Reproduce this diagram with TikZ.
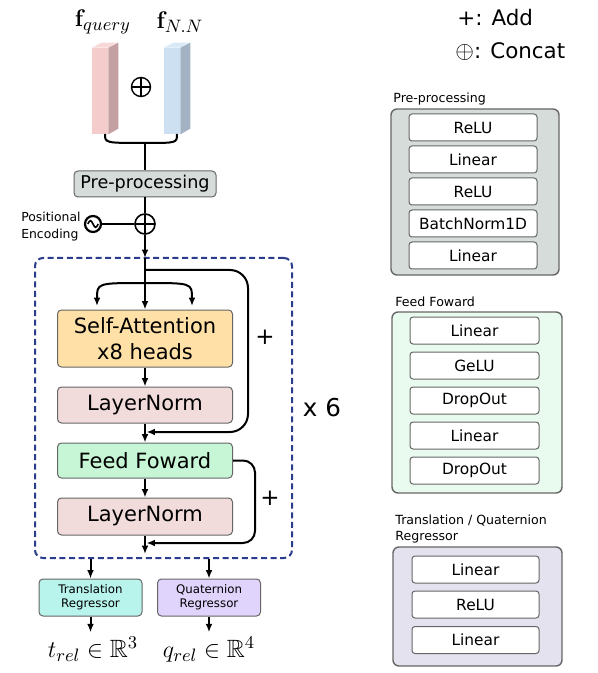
\documentclass[tikz,border=0pt]{standalone}
\usepackage[no-math]{fontspec}
\setmainfont{DejaVu Sans}
\usepackage{amsmath,amssymb}
\usetikzlibrary{arrows.meta}

\definecolor{prefill}{RGB}{214,220,218}
\definecolor{attfill}{RGB}{255,224,166}
\definecolor{normfill}{RGB}{242,220,219}
\definecolor{fffill}{RGB}{198,246,214}
\definecolor{transfill}{RGB}{184,244,236}
\definecolor{quatfill}{RGB}{224,212,252}
\definecolor{ffback}{RGB}{233,251,238}
\definecolor{regback}{RGB}{227,226,238}
\definecolor{loopblue}{RGB}{42,60,140}
\definecolor{qfront}{RGB}{244,204,204}
\definecolor{qtop}{RGB}{248,216,216}
\definecolor{qside}{RGB}{196,160,162}
\definecolor{nfront}{RGB}{204,224,242}
\definecolor{ntop}{RGB}{216,232,246}
\definecolor{nside}{RGB}{162,178,194}

\tikzset{
  blk/.style={draw=black!60, rounded corners=2pt, line width=0.5pt, inner sep=0pt},
  layer/.style={blk, minimum width=87.5pt, align=center, font=\fontsize{10.5}{13}\selectfont},
  regbox/.style={blk, minimum width=51.5pt, minimum height=18.5pt, align=center, font=\fontsize{5.9}{7}\selectfont},
  op/.style={blk, fill=white, rounded corners=1.5pt, minimum height=13.5pt, font=\fontsize{7.7}{9}\selectfont},
  group/.style={blk, rounded corners=3pt, line width=0.7pt},
  title/.style={anchor=west, inner sep=0pt, align=left, font=\fontsize{6.3}{8}\selectfont},
  oplus/.style={circle, draw, line width=0.8pt, minimum size=10pt, inner sep=0pt,
    path picture={\draw[line width=0.8pt] (path picture bounding box.north) -- (path picture bounding box.south)
      (path picture bounding box.west) -- (path picture bounding box.east);}},
  wave/.style={circle, draw, line width=1.1pt, minimum size=8pt, inner sep=0pt,
    path picture={\draw[line width=0.8pt] ([xshift=-2.6pt]path picture bounding box.center)
      .. controls +(1pt,2.2pt) and +(-1pt,2.2pt) .. (path picture bounding box.center)
      .. controls +(1pt,-2.2pt) and +(-1pt,-2.2pt) .. ([xshift=2.6pt]path picture bounding box.center);}},
  flow/.style={line width=1pt, -{Latex[length=4.2pt,width=3.4pt]}},
  link/.style={line width=1pt},
  mathlbl/.style={inner sep=2pt, font=\fontsize{12.5}{15}\selectfont},
}

\begin{document}
\begin{tikzpicture}[x=0.5pt, y=-0.5pt]
\useasboundingbox (0,0) rectangle (598,673);

% input features
\node[mathlbl] (fq) at (103,22) {$\mathbf{f}_{query}$};
\node[mathlbl] (fn) at (180,22) {$\mathbf{f}_{N.N}$};
\node[fill=qfront, minimum width=8pt, minimum height=43pt, inner sep=0pt] (qblock) at (100,91) {};
\fill[qside] (qblock.north east) -- ++(5pt,2.5pt) -- ++(0pt,-43pt) -- (qblock.south east) -- cycle;
\fill[qtop] (qblock.north west) -- ++(5pt,2.5pt) -- ++(8pt,0pt) -- (qblock.north east) -- cycle;
\node[fill=nfront, minimum width=8pt, minimum height=43pt, inner sep=0pt] (nblock) at (172,91) {};
\fill[nside] (nblock.north east) -- ++(5pt,2.5pt) -- ++(0pt,-43pt) -- (nblock.south east) -- cycle;
\fill[ntop] (nblock.north west) -- ++(5pt,2.5pt) -- ++(8pt,0pt) -- (nblock.north east) -- cycle;
\node[oplus, line width=0.7pt, minimum size=9.5pt] (catsym) at (141,87) {};

\coordinate (qend) at (105,134);
\coordinate (nend) at (177,134);
\coordinate (merge) at (145,143);
\draw[link] (qend) .. controls (qend |- merge) .. (merge) .. controls (nend |- merge) .. (nend);

% pre-processing and positional encoding
\node[layer, fill=prefill, minimum width=71pt, minimum height=13pt, font=\fontsize{8.8}{10}\selectfont] (pre) at (145,184) {Pre-processing};
\node[oplus, minimum size=10pt] (cat) at (145,224) {};
\node[wave] (pe) at (93,224) {};
\node[anchor=east, inner sep=0pt, align=left, font=\fontsize{6.2}{8.5}\selectfont] (petext) at (81,226.5) {Positional\\Encoding};
\draw[link] (merge) -- (pre);
\draw[link] (pre) -- (cat);
\draw[link] (pe) -- (cat);

% encoder block
\node[draw=loopblue, dash pattern=on 3pt off 1.8pt, line width=1pt, rounded corners=4pt,
  minimum width=128.5pt, minimum height=150pt, inner sep=0pt] (enc) at (163.5,408) {};
\node[layer, fill=attfill, minimum height=28.5pt] (att) at (145,338.5) {Self-Attention\\x8 heads};
\node[layer, fill=normfill, minimum height=18pt] (ln1) at (145,405) {LayerNorm};
\node[layer, fill=fffill, minimum height=17.5pt] (ff) at (145,460.5) {Feed Foward};
\node[layer, fill=normfill, minimum height=18.5pt] (ln2) at (145,516.5) {LayerNorm};
\node[font=\fontsize{11.5}{13}\selectfont] (plus1) at (265,337) {+};
\node[font=\fontsize{11.5}{13}\selectfont] (plus2) at (270,498) {+};
\node[font=\fontsize{12.3}{14}\selectfont] (times) at (322,408) {x 6};

\coordinate (entry) at (145,258);
\coordinate (res1) at (145,270);
\coordinate (split) at (145,283);
\coordinate (headL) at (97,306);
\coordinate (headR) at (192,306);
\coordinate (bend1) at (248,432);
\coordinate (join1) at (146.5,432);
\coordinate (bend2) at (255,543);
\coordinate (join2) at (146.5,543);

\draw[flow] (cat) -- (entry);
\draw[flow] (entry) -- (att);
\draw[flow] (split) .. controls (split -| headL) .. (headL);
\draw[flow] (split) .. controls (split -| headR) .. (headR);
\draw[flow, rounded corners=9pt] (res1) -| (bend1) -- (join1);
\draw[flow] (att) -- (ln1);
\draw[flow] (ln1) -- (ff);
\draw[flow] (ff) -- (ln2);
\draw[flow, rounded corners=6pt] (ff.east) -| (bend2) -- (join2);
\draw[flow, shorten >=2.5pt] (ln2) -- (ln2 |- enc.south);

% regressors
\node[regbox, fill=transfill] (trans) at (90.5,597.5) {Translation\\Regressor};
\node[regbox, fill=quatfill] (quat) at (209,597.5) {Quaternion\\Regressor};
\node[mathlbl, anchor=base] (tout) at (93,657) {$t_{rel}\in\mathbb{R}^3$};
\node[mathlbl, anchor=base] (qout) at (209,657) {$q_{rel}\in\mathbb{R}^4$};
\draw[flow] (trans |- enc.south) -- (trans);
\draw[flow] (quat |- enc.south) -- (quat);
\draw[flow] (trans) -- (trans |- tout.north);
\draw[flow] (quat) -- (quat |- qout.north);

% legend
\node[anchor=west, inner sep=0pt, font=\fontsize{10.7}{13}\selectfont] (addkey) at (457,18) {+: Add};
\node[anchor=west, inner sep=0pt, font=\fontsize{10.7}{13}\selectfont] (catkey) at (455,52) {{\fontsize{12.5}{13}\selectfont$\oplus$}: Concat};

% pre-processing details
\node[title] (preTitle) at (393,99) {Pre-processing};
\node[group, fill=prefill, minimum width=84pt, minimum height=83pt] (preBox) at (475,192) {};
\node[op, minimum width=64pt] (p1) at (473,127.5) {ReLU};
\node[op, minimum width=64pt] (p2) at (473,159.5) {Linear};
\node[op, minimum width=64pt] (p3) at (473,191.5) {ReLU};
\node[op, minimum width=64pt] (p4) at (473,223.5) {BatchNorm1D};
\node[op, minimum width=64pt] (p5) at (473,255.5) {Linear};

% feed forward details
\node[title] (ffTitle) at (395,302) {Feed Foward};
\node[group, fill=ffback, minimum width=85pt, minimum height=90.5pt] (ffBox) at (477,402.5) {};
\node[op, minimum width=64.5pt] (f1) at (474.5,330.5) {Linear};
\node[op, minimum width=64.5pt] (f2) at (474.5,365.5) {GeLU};
\node[op, minimum width=64.5pt] (f3) at (474.5,400.5) {DropOut};
\node[op, minimum width=64.5pt] (f4) at (474.5,435.5) {Linear};
\node[op, minimum width=64.5pt] (f5) at (474.5,470.5) {DropOut};

% regressor details
\node[title] (regTitle) at (395,529) {Translation / Quaternion\\Regressor};
\node[group, fill=regback, minimum width=84.5pt, minimum height=59.5pt] (regBox) at (477.5,606.5) {};
\node[op, minimum width=63.5pt] (r1) at (475.5,569.5) {Linear};
\node[op, minimum width=63.5pt] (r2) at (475.5,604.5) {ReLU};
\node[op, minimum width=63.5pt] (r3) at (475.5,640) {Linear};
\end{tikzpicture}
\end{document}
